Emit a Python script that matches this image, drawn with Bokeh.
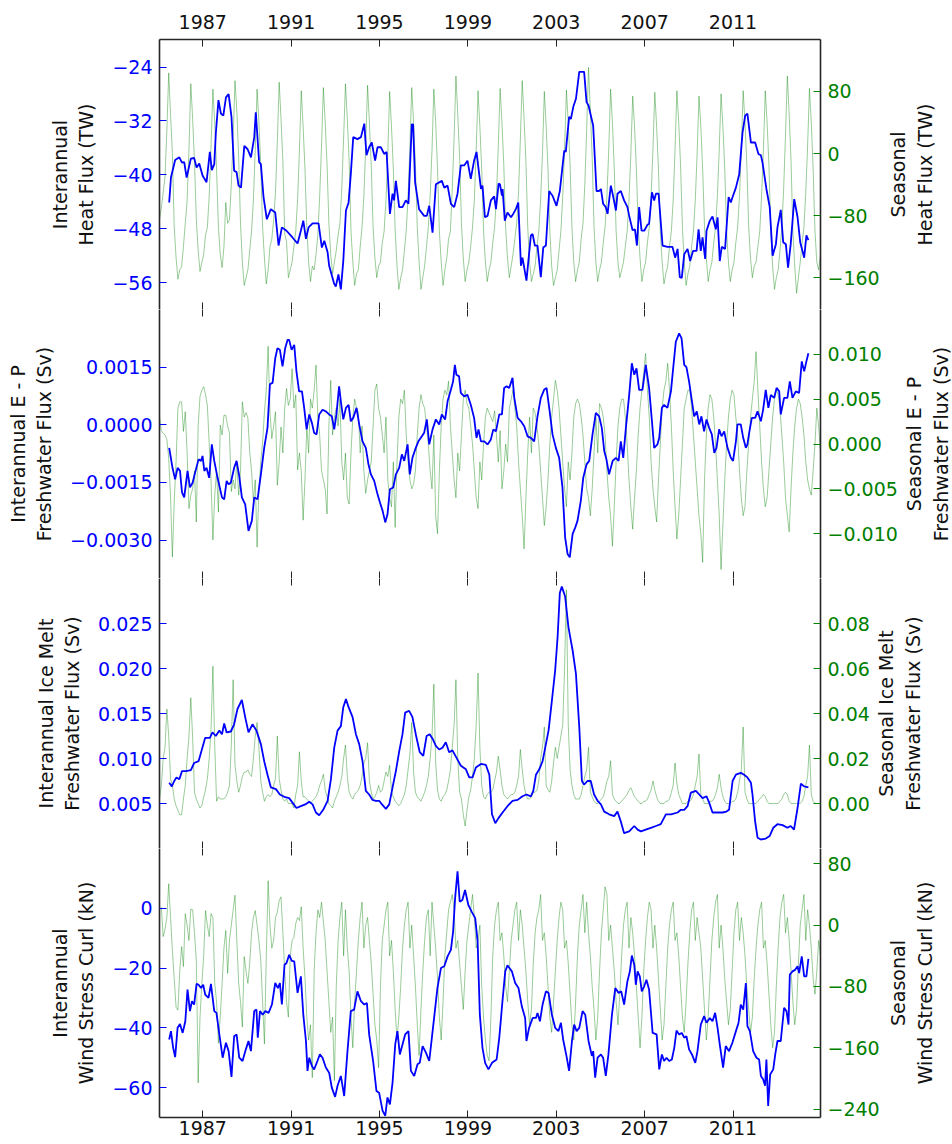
import numpy as np
from bokeh.plotting import figure
from bokeh.layouts import column, row
from bokeh.models import Range1d, LinearAxis, FixedTicker, CustomJSTickFormatter
from bokeh.core.properties import value
from bokeh.embed import file_html
from bokeh.resources import INLINE

# ---------------- data ----------------
season_years = list(range(1985, 2015))
tick_years = [1987, 1991, 1995, 1999, 2003, 2007, 2011]

# Interannual heat flux (TW): (decimal year, value)
heat_interannual = [
(1985.48,-44.1),(1985.56,-40.4),(1985.75,-37.8),(1985.94,-37.4),(1986.06,-38.2),(1986.16,-38.1),(1986.27,-40.4),(1986.46,-37.6),(1986.61,-37.5),(1986.72,-38.9),(1986.84,-38.3),(1986.99,-40.1),(1987.17,-41.1),(1987.32,-36.6),(1987.41,-39.3),(1987.52,-38.4),(1987.59,-33.9),(1987.71,-28.9),(1987.82,-30.9),(1987.93,-31.2),(1988.05,-28.5),(1988.17,-28.0),(1988.30,-31.4),(1988.42,-39.4),(1988.53,-39.6),(1988.62,-41.6),(1988.73,-41.9),(1988.88,-35.7),(1989.03,-36.2),(1989.18,-37.4),(1989.33,-34.4),(1989.40,-30.7),(1989.55,-38.1),(1989.63,-38.4),(1989.75,-43.3),(1989.90,-46.6),(1990.08,-45.1),(1990.28,-45.6),(1990.43,-50.5),(1990.58,-47.8),(1990.79,-48.3),(1991.06,-49.3),(1991.29,-50.2),(1991.44,-48.3),(1991.55,-46.8),(1991.67,-49.5),(1991.79,-47.8),(1991.97,-47.2),(1992.24,-47.2),(1992.39,-50.8),(1992.50,-49.8),(1992.65,-51.5),(1992.72,-53.5),(1992.95,-56.2),(1993.02,-56.6),(1993.14,-54.8),(1993.25,-57.0),(1993.36,-52.8),(1993.48,-45.3),(1993.60,-44.1),(1993.70,-39.9),(1993.81,-34.4),(1994.00,-34.7),(1994.16,-34.4),(1994.31,-32.4),(1994.41,-37.1),(1994.53,-35.9),(1994.65,-35.2),(1994.80,-37.9),(1994.91,-35.9),(1995.06,-35.9),(1995.21,-36.9),(1995.32,-36.6),(1995.47,-45.8),(1995.59,-42.8),(1995.66,-43.8),(1995.74,-40.9),(1995.89,-44.8),(1996.04,-44.8),(1996.19,-43.8),(1996.31,-44.3),(1996.46,-32.5),(1996.52,-32.5),(1996.61,-41.1),(1996.79,-45.1),(1997.02,-46.1),(1997.14,-46.1),(1997.25,-44.6),(1997.40,-48.6),(1997.55,-41.4),(1997.82,-40.9),(1997.93,-41.9),(1998.08,-41.6),(1998.23,-44.3),(1998.38,-44.8),(1998.53,-42.8),(1998.68,-38.6),(1998.83,-38.6),(1998.98,-37.9),(1999.13,-40.6),(1999.28,-37.9),(1999.39,-36.6),(1999.59,-42.1),(1999.66,-41.6),(1999.77,-46.3),(1999.89,-46.1),(2000.04,-43.8),(2000.19,-43.2),(2000.27,-45.1),(2000.39,-41.3),(2000.45,-41.4),(2000.54,-43.1),(2000.57,-42.1),(2000.67,-46.8),(2000.79,-45.6),(2000.95,-46.3),(2001.05,-45.8),(2001.17,-45.1),(2001.28,-44.1),(2001.40,-53.5),(2001.47,-52.3),(2001.65,-55.7),(2001.85,-49.0),(2001.93,-48.8),(2002.03,-50.5),(2002.15,-50.5),(2002.30,-55.2),(2002.41,-50.8),(2002.53,-50.5),(2002.68,-42.4),(2002.76,-42.8),(2002.83,-43.1),(2003.01,-44.6),(2003.16,-42.4),(2003.36,-36.4),(2003.43,-36.6),(2003.58,-31.4),(2003.66,-31.7),(2003.77,-29.9),(2003.89,-28.7),(2004.04,-24.7),(2004.26,-24.7),(2004.37,-29.2),(2004.46,-29.7),(2004.67,-32.7),(2004.82,-42.4),(2004.94,-42.4),(2005.02,-42.1),(2005.12,-44.3),(2005.24,-44.8),(2005.32,-45.8),(2005.47,-41.6),(2005.58,-43.3),(2005.70,-45.3),(2005.77,-42.8),(2005.92,-42.4),(2006.07,-43.8),(2006.22,-44.8),(2006.30,-46.1),(2006.45,-48.2),(2006.56,-48.1),(2006.65,-50.5),(2006.75,-44.8),(2006.86,-48.3),(2006.98,-48.3),(2007.13,-47.4),(2007.20,-47.3),(2007.33,-42.6),(2007.43,-43.8),(2007.51,-42.8),(2007.63,-42.8),(2007.81,-50.5),(2008.03,-50.7),(2008.26,-50.7),(2008.38,-52.3),(2008.49,-51.0),(2008.59,-55.2),(2008.68,-55.3),(2008.79,-51.8),(2008.94,-51.0),(2009.06,-52.8),(2009.19,-51.3),(2009.35,-51.3),(2009.44,-48.1),(2009.54,-51.3),(2009.62,-49.3),(2009.74,-52.5),(2009.80,-48.3),(2009.95,-46.8),(2010.07,-46.2),(2010.22,-48.1),(2010.30,-46.3),(2010.40,-52.8),(2010.49,-50.7),(2010.64,-51.0),(2010.80,-43.3),(2010.90,-44.1),(2010.98,-43.3),(2011.13,-41.9),(2011.28,-39.9),(2011.43,-33.7),(2011.55,-31.2),(2011.65,-30.9),(2011.81,-35.2),(2012.00,-35.2),(2012.15,-36.9),(2012.26,-37.1),(2012.33,-38.1),(2012.51,-42.1),(2012.66,-44.8),(2012.79,-52.0),(2012.94,-50.3),(2013.01,-47.8),(2013.16,-45.2),(2013.27,-50.0),(2013.39,-50.3),(2013.49,-53.8),(2013.61,-50.3),(2013.77,-43.6),(2013.92,-46.3),(2014.04,-50.0),(2014.22,-52.3),(2014.32,-49.0),(2014.41,-49.7)]

# Seasonal heat flux (TW), one row per year Jan..Dec
heat_seasonal = [
[-85,-70,-50,-30,30,104,50,0,-95,-134,-162,-150],
[-146,-120,-90,-61,5,90,45,-10,-85,-125,-152,-140],
[-130,-105,-95,-55,10,83,40,-20,-95,-130,-147,-120],
[-63,-90,-85,-40,20,94,55,-5,-90,-140,-170,-160],
[-150,-125,-100,-60,5,83,40,-15,-95,-135,-168,-150],
[-120,-110,-85,-50,15,92,45,-10,-104,-113,-160,-150],
[-140,-120,-100,-60,5,81,35,-20,-95,-140,-165,-145],
[-150,-130,-105,-55,10,85,40,-15,-90,-130,-155,-140],
[-125,-105,-90,-45,20,90,45,-10,-100,-140,-170,-155],
[-150,-120,-95,-55,10,88,40,-15,-95,-135,-160,-145],
[-140,-115,-100,-60,0,80,35,-20,-100,-145,-175,-160],
[-150,-125,-100,-55,10,85,40,-15,-95,-140,-175,-160],
[-145,-120,-95,-55,5,83,40,-20,-100,-140,-170,-150],
[-135,-110,-100,-45,20,100,50,-5,-90,-135,-165,-150],
[-140,-120,-95,-60,5,81,35,-20,-100,-140,-165,-150],
[-140,-115,-95,-55,10,84,40,-15,-95,-135,-160,-145],
[-130,-110,-90,-50,20,94,45,-10,-95,-140,-165,-155],
[-145,-120,-100,-60,0,80,35,-20,-100,-145,-170,-160],
[-150,-125,-100,-55,5,82,40,-15,-95,-140,-165,-150],
[-140,-110,-90,-40,30,111,55,-5,-95,-140,-165,-150],
[-140,-115,-95,-55,5,83,40,-20,-100,-140,-160,-150],
[-140,-120,-100,-60,0,74,35,-20,-95,-135,-165,-150],
[-140,-115,-95,-55,5,79,35,-20,-100,-140,-168,-155],
[-145,-120,-100,-60,5,81,40,-15,-95,-140,-170,-155],
[-145,-120,-100,-60,0,74,35,-20,-95,-135,-165,-150],
[-140,-115,-95,-55,5,77,35,-20,-100,-140,-165,-150],
[-140,-115,-95,-55,5,81,40,-15,-95,-135,-160,-145],
[-140,-120,-100,-55,5,81,40,-15,-100,-145,-175,-160],
[-150,-125,-95,-45,25,100,50,-10,-100,-145,-180,-160],
[-140,-115,-95,-50,10,84,40,-20,-100,-140,-150,-130]]

# Interannual E - P freshwater flux (units of 1e-4 Sv)
ep_interannual_e4 = [
(1985.48,-6.0),(1985.63,-11.2),(1985.75,-14.2),(1985.86,-11.2),(1985.97,-12.0),(1986.06,-17.6),(1986.16,-18.9),(1986.31,-12.0),(1986.42,-16.3),(1986.54,-15.1),(1986.69,-11.6),(1986.81,-9.0),(1986.92,-9.4),(1986.99,-8.1),(1987.07,-12.0),(1987.17,-11.2),(1987.29,-13.8),(1987.41,-5.1),(1987.52,-9.4),(1987.67,-13.8),(1987.87,-18.9),(1987.97,-19.4),(1988.08,-14.6),(1988.17,-15.5),(1988.27,-15.1),(1988.42,-11.2),(1988.53,-9.4),(1988.65,-13.3),(1988.77,-18.9),(1988.92,-20.7),(1989.07,-27.6),(1989.22,-25.0),(1989.33,-18.9),(1989.48,-19.4),(1989.63,-12.9),(1989.78,-6.0),(1989.93,-0.8),(1990.04,10.6),(1990.16,10.9),(1990.28,17.3),(1990.38,19.9),(1990.49,19.5),(1990.61,15.2),(1990.73,19.9),(1990.84,22.1),(1990.91,22.1),(1991.02,19.5),(1991.14,20.8),(1991.24,13.9),(1991.36,8.7),(1991.49,8.7),(1991.59,4.4),(1991.70,-1.2),(1991.82,2.7),(1991.94,0.5),(1992.04,-2.1),(1992.15,-2.5),(1992.27,2.7),(1992.42,3.9),(1992.57,3.5),(1992.72,2.7),(1992.84,2.2),(1992.95,-1.2),(1993.05,2.7),(1993.17,10.0),(1993.25,6.1),(1993.36,1.4),(1993.48,4.4),(1993.60,5.2),(1993.70,0.9),(1993.81,1.8),(1993.96,4.4),(1994.08,0.1),(1994.23,-4.3),(1994.38,-6.0),(1994.50,-10.3),(1994.61,-12.9),(1994.76,-14.6),(1994.91,-18.1),(1995.02,-20.2),(1995.14,-22.4),(1995.26,-25.4),(1995.36,-23.3),(1995.47,-16.8),(1995.62,-16.3),(1995.74,-12.9),(1995.89,-11.2),(1996.01,-7.7),(1996.12,-9.4),(1996.27,-5.1),(1996.37,-12.9),(1996.49,-8.6),(1996.64,-6.0),(1996.76,-4.3),(1996.87,-3.4),(1997.02,-2.1),(1997.14,1.4),(1997.25,-5.1),(1997.40,-1.2),(1997.55,1.4),(1997.70,0.1),(1997.82,2.7),(1997.97,1.4),(1998.08,6.1),(1998.23,9.1),(1998.33,11.3),(1998.41,15.6),(1998.48,13.0),(1998.60,12.6),(1998.68,8.3),(1998.83,7.4),(1998.98,7.8),(1999.13,5.2),(1999.28,1.8),(1999.39,-3.4),(1999.48,-1.2),(1999.59,-4.3),(1999.74,-4.3),(1999.89,-5.1),(2000.04,-3.8),(2000.15,-1.2),(2000.27,-1.7),(2000.42,2.7),(2000.54,2.7),(2000.64,9.6),(2000.75,10.0),(2000.87,9.6),(2001.02,12.2),(2001.10,7.0),(2001.25,1.8),(2001.40,0.9),(2001.55,-0.4),(2001.70,-3.0),(2001.85,-3.4),(2002.00,-4.3),(2002.15,2.2),(2002.30,7.0),(2002.45,9.1),(2002.56,9.6),(2002.68,4.4),(2002.83,-2.5),(2002.98,-6.0),(2003.13,-8.6),(2003.28,-16.3),(2003.40,-29.3),(2003.51,-33.6),(2003.61,-34.5),(2003.74,-28.4),(2003.86,-26.7),(2003.96,-25.0),(2004.11,-19.8),(2004.22,-13.8),(2004.37,-10.3),(2004.49,-9.4),(2004.64,-2.5),(2004.79,3.1),(2004.94,2.2),(2005.06,-0.8),(2005.17,-6.8),(2005.27,-9.0),(2005.39,-12.9),(2005.55,-9.4),(2005.70,-8.6),(2005.82,-9.4),(2005.92,-4.3),(2006.03,-8.6),(2006.15,-0.8),(2006.30,7.8),(2006.42,16.0),(2006.53,13.0),(2006.63,14.7),(2006.75,9.1),(2006.90,9.1),(2007.05,15.6),(2007.20,9.6),(2007.33,0.9),(2007.43,-6.0),(2007.58,-5.1),(2007.66,-3.4),(2007.78,4.4),(2007.88,5.2),(2008.03,4.4),(2008.19,8.7),(2008.29,14.7),(2008.41,21.6),(2008.56,23.8),(2008.67,22.5),(2008.79,15.6),(2008.89,15.0),(2009.01,11.3),(2009.14,6.1),(2009.24,2.2),(2009.36,3.5),(2009.47,0.1),(2009.57,2.2),(2009.69,-1.7),(2009.80,1.4),(2009.92,-0.8),(2010.04,-2.5),(2010.15,-7.3),(2010.25,-6.0),(2010.37,-1.2),(2010.48,-3.0),(2010.60,-1.7),(2010.75,-6.0),(2010.90,-8.6),(2011.00,-9.4),(2011.13,-4.3),(2011.20,0.1),(2011.35,0.1),(2011.46,-3.4),(2011.58,-6.0),(2011.65,-5.1),(2011.73,-2.1),(2011.85,1.8),(2012.00,1.8),(2012.11,3.5),(2012.26,0.9),(2012.36,3.9),(2012.48,9.1),(2012.60,4.4),(2012.71,7.8),(2012.86,7.0),(2012.97,9.6),(2013.09,8.7),(2013.16,2.7),(2013.31,7.0),(2013.46,7.0),(2013.57,11.3),(2013.69,7.0),(2013.84,8.7),(2013.99,8.3),(2014.11,16.5),(2014.22,13.9),(2014.32,16.5),(2014.41,18.6)]

# Seasonal E - P freshwater flux (units of 1e-4 Sv), Jan..Dec per year
ep_seasonal_e4 = [
[30,15,12,10,5,-16,-60,-126,-64,-20,40,47],
[47,14,36,-10,-72,-57,-50,-30,-87,20,53,60],
[64,55,43,0,-42,-107,-57,-30,-76,21,10,32],
[32,20,12,-53,-40,-50,-20,-57,-30,47,30,35],
[29,-9,-30,-64,-40,-115,-50,-20,2,36,60,109],
[36,6,20,36,-46,-20,19,-10,40,62,43,50],
[84,40,55,-29,-10,-31,-85,-40,20,-10,50,40],
[60,88,30,10,-30,-40,-50,-78,20,71,10,30],
[40,20,50,-20,-40,-10,-60,-67,-10,30,50,40],
[35,-10,20,-30,-55,-40,-30,-20,20,60,67,40],
[30,10,-10,30,-40,-60,-70,-20,-93,-20,30,50],
[45,60,10,-20,-40,-50,-45,-30,10,40,55,45],
[40,20,0,-30,-50,10,-80,-100,-30,20,50,60],
[55,70,20,-10,-40,-60,-10,-30,10,50,60,45],
[40,20,0,-30,-60,-72,-20,-40,0,30,40,35],
[30,25,37,10,-20,15,-50,-30,0,-20,40,50],
[60,40,20,-20,-50,-80,-117,-60,-10,30,-10,40],
[35,20,0,-30,-60,-91,-70,-40,0,30,50,71],
[60,40,10,-20,-50,-70,-20,-40,-10,30,45,50],
[45,30,10,-20,-50,-60,-80,-50,-10,30,-10,45],
[40,30,10,-30,-60,-80,-114,-70,-20,20,40,50],
[50,30,0,-40,-70,-95,-60,-30,10,40,60,80],
[101,60,30,-20,-50,-70,-87,-40,0,40,60,70],
[90,60,20,-30,-70,-106,-80,-40,0,40,50,60],
[60,40,10,-20,-50,-80,-100,-132,-40,10,40,55],
[50,30,0,-40,-80,-140,-90,-40,0,30,50,60],
[55,30,10,-30,-60,-80,-70,-30,0,30,50,70],
[103,60,20,-20,-50,-70,-60,-30,0,30,50,60],
[55,40,10,-20,-60,-80,-98,-50,-10,20,40,50],
[45,30,10,-20,-40,-50,-57,-30,0,40,20,-10]]

# Interannual ice melt freshwater flux (units of 1e-3 Sv)
ice_interannual_e3 = [
(1985.48,7.3),(1985.60,6.9),(1985.71,7.5),(1985.81,7.9),(1985.94,7.7),(1986.06,8.6),(1986.24,8.6),(1986.46,8.7),(1986.61,9.5),(1986.81,9.7),(1986.96,11.0),(1987.11,12.3),(1987.32,12.3),(1987.44,12.9),(1987.59,12.5),(1987.75,13.1),(1987.87,12.7),(1987.97,13.9),(1988.08,12.9),(1988.27,13.0),(1988.42,13.8),(1988.57,15.5),(1988.77,16.5),(1988.92,14.6),(1989.07,12.9),(1989.25,13.8),(1989.43,13.1),(1989.63,11.6),(1989.78,9.7),(1989.93,8.2),(1990.08,6.8),(1990.31,6.6),(1990.49,6.0),(1990.73,5.7),(1990.91,5.6),(1991.06,5.1),(1991.24,4.5),(1991.44,4.7),(1991.64,4.9),(1991.82,5.2),(1991.97,4.9),(1992.12,4.0),(1992.27,3.7),(1992.45,4.3),(1992.65,5.3),(1992.80,7.7),(1992.95,11.2),(1993.10,13.1),(1993.25,13.6),(1993.36,15.7),(1993.48,16.6),(1993.60,15.7),(1993.78,14.6),(1993.93,12.7),(1994.08,11.6),(1994.23,9.7),(1994.38,6.4),(1994.53,6.0),(1994.68,5.4),(1994.83,5.3),(1994.98,5.3),(1995.11,4.9),(1995.29,4.4),(1995.44,4.9),(1995.59,6.8),(1995.74,8.6),(1995.89,10.8),(1996.04,12.7),(1996.16,15.1),(1996.34,15.3),(1996.49,14.6),(1996.64,12.7),(1996.82,10.7),(1996.98,10.3),(1997.13,12.5),(1997.27,12.7),(1997.40,12.2),(1997.55,11.4),(1997.70,11.0),(1997.85,11.2),(1998.00,11.8),(1998.15,10.7),(1998.30,10.9),(1998.48,10.1),(1998.68,9.2),(1998.91,8.8),(1999.06,7.9),(1999.21,7.9),(1999.36,9.0),(1999.59,9.4),(1999.81,9.3),(1999.97,8.2),(2000.09,3.8),(2000.24,2.8),(2000.39,3.4),(2000.57,4.0),(2000.79,4.7),(2001.02,5.3),(2001.25,5.4),(2001.47,5.8),(2001.65,6.0),(2001.85,5.8),(2001.96,6.4),(2002.08,8.2),(2002.23,8.8),(2002.38,9.7),(2002.50,11.2),(2002.65,13.1),(2002.80,16.4),(2002.95,19.8),(2003.06,23.5),(2003.16,28.4),(2003.25,29.1),(2003.40,28.0),(2003.55,24.6),(2003.74,22.0),(2003.89,19.4),(2004.04,13.5),(2004.16,7.5),(2004.26,7.1),(2004.41,7.5),(2004.56,7.5),(2004.71,6.0),(2004.87,5.3),(2005.02,4.9),(2005.17,4.1),(2005.39,3.8),(2005.62,3.6),(2005.77,4.1),(2005.92,3.0),(2006.07,1.7),(2006.30,1.9),(2006.53,2.5),(2006.68,2.1),(2006.83,1.9),(2007.05,2.1),(2007.28,2.3),(2007.51,2.5),(2007.73,2.7),(2007.96,3.8),(2008.19,3.8),(2008.49,4.0),(2008.64,4.3),(2008.79,4.3),(2008.94,4.7),(2009.09,6.2),(2009.32,6.4),(2009.47,6.0),(2009.62,5.6),(2009.80,5.8),(2009.92,5.1),(2010.07,4.0),(2010.30,4.0),(2010.52,4.0),(2010.70,4.1),(2010.82,4.3),(2010.98,7.5),(2011.13,8.2),(2011.35,8.4),(2011.50,8.2),(2011.65,7.9),(2011.81,7.3),(2011.88,6.0),(2012.00,3.0),(2012.11,1.2),(2012.26,1.0),(2012.48,1.1),(2012.66,1.4),(2012.82,2.3),(2013.01,2.7),(2013.24,2.6),(2013.46,2.3),(2013.61,2.5),(2013.76,2.1),(2013.92,4.5),(2014.07,7.2),(2014.22,6.9),(2014.41,6.8)]

# Seasonal ice melt freshwater flux (units of 1e-3 Sv), Jan..Dec per year
ice_seasonal_e3 = [
[2,8,20,25,42,30,11,8,2,-1,-3,-5],
[-5,2,8,20,30,47,29,5,2,0,-2,-1],
[3,6,11,20,33,61,26,1,3,2,2,2],
[3,5,8,26,55,17,10,5,8,12,14,14],
[15,13,12,20,30,36,25,10,5,1,3,4],
[3,4,8,11,30,11,6,2,1,2,0,0],
[0,-2,4,8,23,10,3,3,2,1,0,1],
[2,3,5,8,10,13,6,3,0,-1,-2,1],
[3,5,8,12,20,26,12,5,3,2,4,5],
[6,8,12,18,20,27,10,5,2,3,5,8],
[5,6,10,14,12,17,5,3,1,0,-1,0],
[2,4,8,15,22,36,14,5,3,2,1,3],
[5,8,12,20,30,53,18,6,2,1,3,4],
[6,10,15,25,35,55,20,5,2,-5,-10,-3],
[3,6,12,20,35,58,25,8,3,2,4,5],
[5,6,10,14,21,15,8,4,3,2,3,4],
[4,5,8,12,24,15,8,4,2,2,3,5],
[5,6,10,20,25,34,8,6,5,10,18,25],
[20,25,30,35,60,95,35,15,8,4,2,2],
[2,4,8,12,15,25,5,3,1,0,0,1],
[2,3,6,10,12,19,4,2,1,0,0,1],
[2,3,4,6,7,5,3,2,1,0,0,1],
[1,2,4,6,10,6,3,1,0,0,0,1],
[1,2,5,8,18,9,4,2,0,0,0,1],
[1,2,4,8,12,22,4,2,0,0,0,1],
[1,2,4,7,13,7,3,1,0,0,0,1],
[1,2,5,10,15,34,5,2,0,0,0,0],
[0,1,2,3,4,3,1,0,0,0,0,0],
[0,1,2,4,5,4,1,0,0,0,0,0],
[0,1,3,8,12,26,4,1,0,0,0,0]]

# Interannual wind stress curl (kN)
wind_interannual = [
(1985.48,-43.9),(1985.56,-41.1),(1985.66,-46.7),(1985.75,-49.8),(1985.86,-40.0),(1985.97,-38.7),(1986.09,-41.7),(1986.21,-37.8),(1986.31,-27.2),(1986.42,-34.4),(1986.51,-31.1),(1986.61,-32.2),(1986.72,-25.3),(1986.81,-25.6),(1986.92,-26.7),(1987.02,-25.6),(1987.11,-28.9),(1987.26,-30.0),(1987.37,-25.3),(1987.52,-34.4),(1987.62,-35.0),(1987.75,-42.2),(1987.90,-50.0),(1988.05,-45.0),(1988.17,-47.8),(1988.30,-56.4),(1988.42,-42.8),(1988.53,-42.2),(1988.65,-50.0),(1988.80,-51.1),(1988.95,-47.2),(1989.07,-44.4),(1989.18,-47.8),(1989.33,-34.4),(1989.43,-33.9),(1989.49,-43.3),(1989.59,-34.4),(1989.71,-35.6),(1989.83,-34.4),(1989.98,-35.0),(1990.13,-32.2),(1990.28,-25.0),(1990.40,-26.7),(1990.49,-25.0),(1990.58,-32.2),(1990.70,-18.9),(1990.79,-18.3),(1990.91,-15.6),(1991.03,-17.6),(1991.14,-17.8),(1991.29,-28.3),(1991.44,-22.8),(1991.55,-35.6),(1991.67,-44.4),(1991.74,-54.4),(1991.82,-50.0),(1991.94,-52.8),(1992.04,-53.9),(1992.19,-51.1),(1992.30,-48.9),(1992.42,-50.0),(1992.57,-53.3),(1992.72,-55.0),(1992.84,-60.0),(1992.99,-63.1),(1993.10,-59.4),(1993.25,-56.1),(1993.40,-62.8),(1993.55,-47.8),(1993.70,-34.4),(1993.85,-33.9),(1994.00,-27.8),(1994.16,-31.1),(1994.31,-32.2),(1994.43,-31.7),(1994.53,-42.2),(1994.71,-51.1),(1994.86,-61.1),(1994.98,-61.7),(1995.14,-67.8),(1995.26,-69.4),(1995.36,-63.3),(1995.47,-65.6),(1995.59,-58.3),(1995.71,-45.6),(1995.81,-41.1),(1995.92,-48.9),(1996.04,-45.6),(1996.16,-42.2),(1996.31,-41.1),(1996.42,-54.4),(1996.57,-56.1),(1996.72,-52.2),(1996.82,-51.7),(1996.95,-46.1),(1997.10,-48.3),(1997.25,-51.1),(1997.37,-43.3),(1997.47,-36.7),(1997.62,-26.7),(1997.78,-20.0),(1997.93,-19.4),(1998.08,-16.1),(1998.23,-13.9),(1998.33,-7.8),(1998.42,3.3),(1998.53,12.4),(1998.63,2.2),(1998.75,2.8),(1998.87,6.1),(1999.02,1.1),(1999.17,-1.1),(1999.33,-3.3),(1999.44,-11.1),(1999.54,-35.6),(1999.66,-46.7),(1999.78,-51.7),(1999.93,-53.9),(2000.09,-51.7),(2000.30,-50.6),(2000.42,-43.3),(2000.57,-30.6),(2000.69,-21.1),(2000.79,-19.1),(2000.99,-21.1),(2001.14,-25.0),(2001.29,-26.7),(2001.44,-32.8),(2001.59,-36.7),(2001.65,-44.4),(2001.77,-40.0),(2001.93,-36.7),(2002.08,-36.7),(2002.15,-35.0),(2002.26,-37.8),(2002.38,-32.2),(2002.53,-27.8),(2002.65,-28.3),(2002.80,-35.6),(2002.95,-40.0),(2003.10,-41.1),(2003.21,-38.3),(2003.31,-43.9),(2003.46,-49.4),(2003.58,-54.4),(2003.71,-44.4),(2003.81,-38.9),(2003.92,-41.1),(2004.04,-40.0),(2004.19,-34.4),(2004.31,-35.6),(2004.46,-44.4),(2004.61,-49.4),(2004.67,-47.8),(2004.76,-56.7),(2004.87,-50.0),(2005.02,-48.9),(2005.12,-50.0),(2005.24,-56.1),(2005.36,-48.9),(2005.52,-35.6),(2005.67,-26.7),(2005.82,-28.3),(2005.94,-27.8),(2006.07,-32.2),(2006.22,-24.4),(2006.33,-21.1),(2006.42,-15.8),(2006.53,-18.9),(2006.60,-25.6),(2006.68,-21.1),(2006.78,-22.8),(2006.87,-27.8),(2006.98,-26.1),(2007.08,-23.9),(2007.20,-27.2),(2007.36,-41.7),(2007.54,-42.2),(2007.66,-53.9),(2007.78,-48.9),(2007.88,-51.1),(2007.99,-50.0),(2008.11,-51.1),(2008.23,-50.6),(2008.34,-46.7),(2008.44,-40.9),(2008.56,-42.2),(2008.68,-41.7),(2008.79,-43.3),(2008.89,-42.8),(2009.01,-47.2),(2009.14,-48.9),(2009.29,-51.7),(2009.39,-47.8),(2009.54,-38.9),(2009.69,-36.1),(2009.80,-38.3),(2009.95,-36.7),(2010.07,-37.8),(2010.19,-35.0),(2010.30,-40.0),(2010.40,-45.6),(2010.55,-53.3),(2010.67,-46.1),(2010.82,-47.8),(2010.97,-45.0),(2011.13,-41.1),(2011.25,-38.3),(2011.35,-32.2),(2011.46,-33.9),(2011.58,-25.0),(2011.65,-39.4),(2011.76,-41.1),(2011.91,-47.8),(2012.06,-50.0),(2012.18,-50.6),(2012.26,-56.1),(2012.36,-57.2),(2012.45,-59.4),(2012.51,-50.6),(2012.59,-66.1),(2012.68,-55.6),(2012.82,-53.9),(2012.91,-48.9),(2013.01,-44.4),(2013.16,-44.4),(2013.31,-33.3),(2013.42,-34.4),(2013.51,-38.9),(2013.57,-22.2),(2013.69,-21.1),(2013.81,-20.6),(2013.92,-19.4),(2013.99,-21.7),(2014.11,-16.1),(2014.22,-22.8),(2014.32,-22.8),(2014.41,-16.9)]

# Seasonal wind stress curl (kN), Jan..Dec per year
wind_seasonal = [
[20,23,-15,-5,10,54,10,-33,-70,-107,-111,-60],
[-28,-54,15,0,-20,21,20,-10,-46,-206,-120,-76],
[-40,19,0,-15,15,10,-76,-100,-154,-120,-76,-30],
[-7,-63,-20,0,20,39,-20,-76,-100,-133,-41,-60],
[-76,-50,-10,10,19,0,-20,-46,-100,-155,-40,58],
[0,-30,-20,10,17,32,37,-10,-60,-100,-120,-40],
[-20,-16,2,10,6,24,-30,-68,-120,-150,-130,-199],
[-60,-10,20,10,30,5,-20,-60,-100,-140,-120,-203],
[-80,-20,10,30,-40,20,-30,-60,-120,-160,-100,-60],
[-20,10,30,-30,0,10,-20,-50,-90,-130,-150,-186],
[-80,-20,0,20,30,-40,-20,-60,-110,-150,-120,-80],
[-30,0,20,30,-30,0,-40,-80,-130,-170,-110,-60],
[-20,10,20,-40,30,0,-30,-70,-120,-150,-100,-40],
[-10,20,30,40,20,-30,-20,-50,-80,-110,-60,-20],
[0,20,40,10,-30,-20,0,-80,-120,-150,-170,-177],
[-120,-40,0,20,30,-20,-10,-40,-80,-100,-60,-20],
[0,20,30,-20,20,0,-30,-60,-100,-130,-110,-50],
[-10,10,20,40,-20,-10,-40,-80,-120,-140,-100,-60],
[-20,10,30,20,-30,-20,-50,-90,-130,-150,-100,-40],
[0,20,40,-10,30,-10,-40,-80,-110,-150,-120,-60],
[-10,20,50,40,-20,0,-30,-60,-100,-130,-90,-40],
[0,20,30,-30,10,-10,-40,-80,-120,-160,-120,-60],
[-20,10,30,20,-30,0,-30,-70,-110,-150,-130,-80],
[-30,0,20,30,-20,-10,-40,-80,-120,-140,-100,-50],
[-10,20,30,-20,10,-10,-30,-70,-110,-150,-120,-70],
[-20,10,30,40,-30,0,-30,-70,-100,-130,-110,-60],
[-10,20,30,-20,10,-10,-40,-80,-110,-140,-120,-70],
[-30,0,20,30,-30,-20,-50,-90,-130,-160,-140,-80],
[-30,10,30,40,-10,10,-20,-60,-100,-130,-110,-50],
[0,20,40,-20,20,0,-30,-70,-90,-60,-20,-40]]

# axis ticks
heat_left_ticks = [-56, -48, -40, -32, -24]
heat_right_ticks = [-160, -80, 0, 80]
ep_left_ticks = [-0.003, -0.0015, 0, 0.0015]
ep_right_ticks = [-0.01, -0.005, 0, 0.005, 0.01]
ice_left_ticks = [0.005, 0.01, 0.015, 0.02, 0.025]
ice_right_ticks = [0, 0.02, 0.04, 0.06, 0.08]
wind_left_ticks = [-60, -40, -20, 0]
wind_right_ticks = [-240, -160, -80, 0, 80]

# ---------------- styling / layout ----------------
FONT = "DejaVu Sans"
BLUE = "#0000ff"
GREEN = "#008000"
SPINE = "#262626"
FS = "19px"

month_x = [y + (m + 0.5) / 12.0 for y in season_years for m in range(12)]
x_range = Range1d(1985 + 0.5 / 12, 2015 - 0.5 / 12)


def fmt(d):
    return CustomJSTickFormatter(args=dict(d=d),
                                 code="return tick.toFixed(d).replace('-', '\\u2212');")


def no_minor(ax):
    ax.minor_tick_line_color = None
    ax.minor_tick_in = 0
    ax.minor_tick_out = 0


def x_axis(labels, line, standoff):
    ax = LinearAxis(ticker=FixedTicker(ticks=tick_years))
    ax.major_tick_in = 7
    ax.major_tick_out = 0
    ax.major_tick_line_color = "#222222"
    no_minor(ax)
    ax.axis_line_color = SPINE if line else None
    ax.axis_line_width = 1.6
    if labels:
        ax.major_label_text_font = FONT
        ax.major_label_text_font_size = FS
        ax.major_label_text_color = "#111111"
        ax.major_label_standoff = standoff
    else:
        ax.major_label_text_font_size = "0px"
        ax.major_label_text_color = None
        ax.major_label_standoff = 0
    return ax


def y_axis(ticks, digits, color, label=None, range_name=None):
    kw = dict(ticker=FixedTicker(ticks=ticks), formatter=fmt(digits))
    if range_name:
        kw["y_range_name"] = range_name
    ax = LinearAxis(**kw)
    ax.major_tick_in = 7
    ax.major_tick_out = 0
    ax.major_tick_line_color = color
    no_minor(ax)
    ax.axis_line_color = SPINE
    ax.axis_line_width = 1.6
    ax.major_label_text_font = FONT
    ax.major_label_text_font_size = FS
    ax.major_label_text_color = color
    ax.major_label_standoff = 7
    if label:
        ax.axis_label = label
        ax.axis_label_text_font = FONT
        ax.axis_label_text_font_size = FS
        ax.axis_label_text_font_style = "normal"
        ax.axis_label_text_color = "#111111"
        ax.axis_label_standoff = 12
    return ax


panels = [
    dict(inter=heat_interannual, iscale=1.0, seas=heat_seasonal, sscale=1.0,
         lrange=(-60, -19.9), rrange=(-201, 147), lt=heat_left_ticks, rt=heat_right_ticks,
         ld=0, rd=0, ll="Interannual\nHeat Flux (TW)", rl="Seasonal\nHeat Flux (TW)",
         rb=66, lw=50),
    dict(inter=ep_interannual_e4, iscale=1e-4, seas=ep_seasonal_e4, sscale=1e-4,
         lrange=(-0.004, 0.003), rrange=(-0.015, 0.015), lt=ep_left_ticks, rt=ep_right_ticks,
         ld=4, rd=3, ll="Interannual E - P\nFreshwater Flux (Sv)", rl="Seasonal E - P\nFreshwater Flux (Sv)",
         rb=83, lw=48),
    dict(inter=ice_interannual_e3, iscale=1e-3, seas=ice_seasonal_e3, sscale=1e-3,
         lrange=(0.0, 0.03), rrange=(-0.02, 0.10), lt=ice_left_ticks, rt=ice_right_ticks,
         ld=3, rd=2, ll="Interannual Ice Melt\nFreshwater Flux (Sv)", rl="Seasonal Ice Melt\nFreshwater Flux (Sv)",
         rb=54, lw=50),
    dict(inter=wind_interannual, iscale=1.0, seas=wind_seasonal, sscale=1.0,
         lrange=(-70, 20), rrange=(-251, 100), lt=wind_left_ticks, rt=wind_right_ticks,
         ld=0, rd=0, ll="Interannual\nWind Stress Curl (kN)", rl="Seasonal\nWind Stress Curl (kN)",
         rb=66, lw=50),
]

frame_heights = [270, 269, 270, 269]
rows = []
for i, pd_ in enumerate(panels):
    top = 39 if i == 0 else 0
    bottom = 26 if i == 3 else 0
    fh = frame_heights[i]
    p = figure(frame_width=661, frame_height=fh, x_range=x_range,
               y_range=Range1d(*pd_["lrange"]), output_backend="svg", toolbar_location=None,
               x_axis_location=None, y_axis_location=None,
               min_border_left=159, min_border_right=pd_["rb"], min_border_top=top,
               min_border_bottom=bottom)
    p.extra_y_ranges = {"seasonal": Range1d(*pd_["rrange"])}
    p.grid.visible = False
    p.outline_line_color = None
    p.background_fill_color = "white"
    p.border_fill_color = "white"

    seas_vals = np.array([v for row_ in pd_["seas"] for v in row_], dtype=float) * pd_["sscale"]
    p.line(month_x, seas_vals, color=GREEN, line_alpha=0.4, line_width=1,
           y_range_name="seasonal")
    t, v = zip(*pd_["inter"])
    p.line(list(t), list(np.array(v) * pd_["iscale"]), color=BLUE, line_width=1.8)

    p.add_layout(y_axis(pd_["lt"], pd_["ld"], BLUE, pd_["ll"]), "left")
    p.add_layout(y_axis(pd_["rt"], pd_["rd"], GREEN, None, "seasonal"), "right")
    p.add_layout(x_axis(i == 0, i == 0, 11), "above")
    p.add_layout(x_axis(i == 3, i == 3, 3), "below")

    # right-hand (seasonal) axis title, in its own narrow strip
    q = figure(frame_width=pd_["lw"], frame_height=fh, x_range=Range1d(0, 1),
               y_range=Range1d(0, 1), output_backend="svg", toolbar_location=None,
               x_axis_location=None, y_axis_location=None,
               min_border_left=0, min_border_right=0, min_border_top=top,
               min_border_bottom=bottom)
    q.grid.visible = False
    q.outline_line_color = None
    q.background_fill_color = "white"
    q.border_fill_color = "white"
    q.text(x=[0.5], y=[0.5], text=[pd_["rl"]], angle=np.pi / 2, text_align="center",
           text_baseline="middle", text_font=value(FONT), text_font_size=value(FS),
           text_color="#111111")
    rows.append(row(p, q, spacing=0))

layout = column(*rows, spacing=0)
with open("out.html", "w", encoding="utf-8") as f:
    f.write(file_html(layout, INLINE))
